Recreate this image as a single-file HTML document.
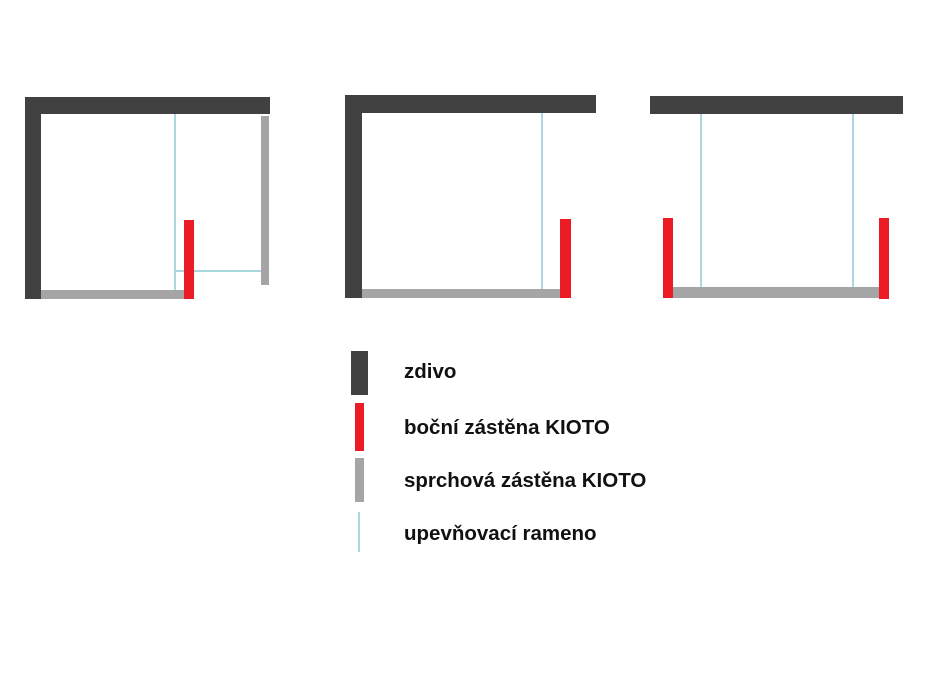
<!DOCTYPE html>
<html><head><meta charset="utf-8"><style>
html,body{margin:0;padding:0;background:#fff;}
body{width:928px;height:686px;position:relative;overflow:hidden;}
.r{position:absolute;}
.d{background:#414141;}
.g{background:#a5a5a5;}
.red{background:#ec1c24;}
.c{background:#a9d6df;}
.t{position:absolute;left:404px;font-family:"Liberation Sans","DejaVu Sans",sans-serif;font-weight:bold;font-size:20.5px;color:#111;line-height:24px;}
</style></head><body>
<div class="r d" style="left:25px;top:97px;width:245px;height:17px"></div>
<div class="r d" style="left:25px;top:97px;width:16px;height:202px"></div>
<div class="r g" style="left:41px;top:290px;width:143px;height:9px"></div>
<div class="r c" style="left:174px;top:114px;width:2px;height:176px"></div>
<div class="r c" style="left:174px;top:270px;width:87px;height:2px"></div>
<div class="r g" style="left:261px;top:116px;width:8px;height:169px"></div>
<div class="r red" style="left:184px;top:220px;width:10px;height:79px"></div>
<div class="r d" style="left:345px;top:95px;width:251px;height:18px"></div>
<div class="r d" style="left:345px;top:95px;width:17px;height:203px"></div>
<div class="r g" style="left:362px;top:289px;width:198px;height:9px"></div>
<div class="r c" style="left:541px;top:113px;width:2px;height:176px"></div>
<div class="r red" style="left:560px;top:219px;width:11px;height:79px"></div>
<div class="r d" style="left:650px;top:96px;width:253px;height:18px"></div>
<div class="r g" style="left:673px;top:287px;width:206px;height:11px"></div>
<div class="r c" style="left:700px;top:114px;width:2px;height:173px"></div>
<div class="r c" style="left:852px;top:114px;width:2px;height:173px"></div>
<div class="r red" style="left:663px;top:218px;width:10px;height:80px"></div>
<div class="r red" style="left:879px;top:218px;width:10px;height:81px"></div>
<div class="r d" style="left:351px;top:351px;width:17px;height:44px"></div>
<div class="r red" style="left:355px;top:403px;width:9px;height:48px"></div>
<div class="r g" style="left:355px;top:458px;width:9px;height:44px"></div>
<div class="r c" style="left:358px;top:512px;width:2px;height:40px"></div>
<div class="t" style="top:360px">zdivo</div>
<div class="t" style="top:416px">boční zástěna KIOTO</div>
<div class="t" style="top:469px">sprchová zástěna KIOTO</div>
<div class="t" style="top:522px">upevňovací rameno</div>
</body></html>
